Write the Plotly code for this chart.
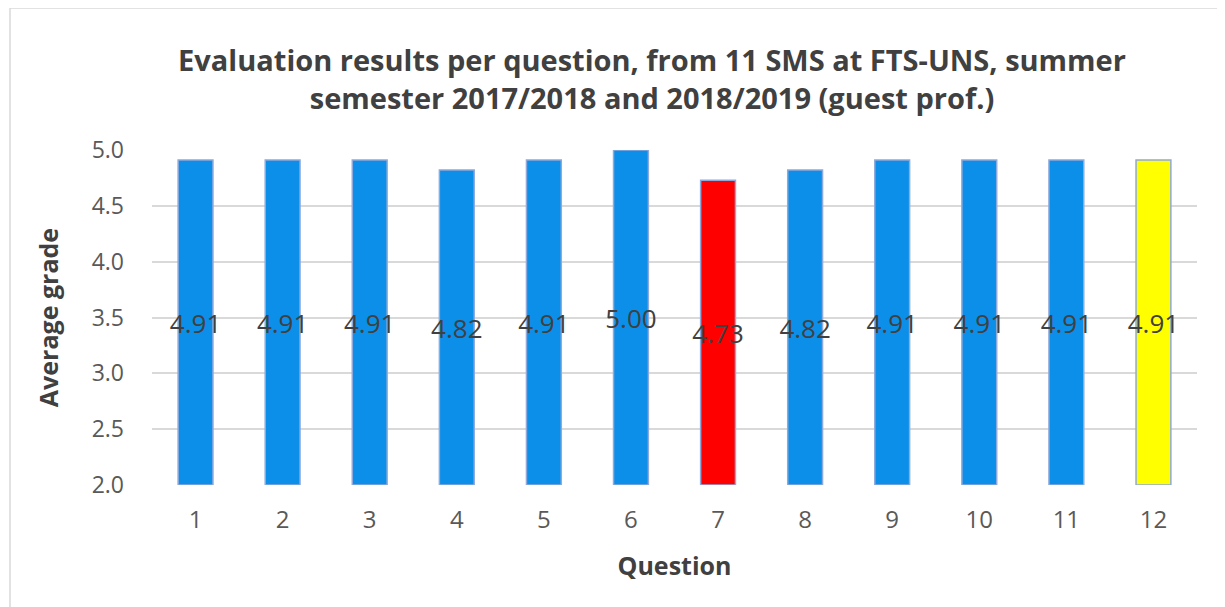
import plotly.graph_objects as go

# Average grade per question (guest professor, 11 SMS)
questions = [str(i) for i in range(1, 13)]
grades = [4.91, 4.91, 4.91, 4.82, 4.91, 5.00, 4.73, 4.82, 4.91, 4.91, 4.91, 4.91]
bar_colors = ['#0B8FE8'] * 6 + ['#FF0000'] + ['#0B8FE8'] * 4 + ['#FFFF00']
labels = ['%.2f' % g for g in grades]

Y_MIN, Y_MAX = 2.0, 5.0
FONT = 'Open Sans'

fig = go.Figure()
fig.add_trace(go.Bar(
    x=questions,
    y=[g - Y_MIN for g in grades],
    base=Y_MIN,
    marker=dict(color=bar_colors, line=dict(color='#8EA9DB', width=1.5)),
    text=labels,
    textposition='inside',
    insidetextanchor='middle',
    textangle=0,
    constraintext='none',
    textfont=dict(family=FONT, size=26, color='#404040'),
    width=0.4,
    hovertemplate='Question %{x}: %{text}<extra></extra>',
))

# page is drawn with an 8px body offset, so margins are shifted accordingly
fig.update_layout(
    width=1225, height=607,
    paper_bgcolor='white', plot_bgcolor='white',
    margin=dict(l=144, r=36, t=142, b=130),
    showlegend=False,
    title=dict(
        text='Evaluation results per question, from 11 SMS at FTS-UNS, summer<br>'
             'semester 2017/2018 and 2018/2019 (guest prof.)',
        x=644 / 1225, xanchor='center', xref='container',
        y=1 - 63 / 607, yanchor='top', yref='container',
        font=dict(family=FONT, size=29, color='#404040', weight='bold'),
    ),
    font=dict(family=FONT, color='#595959'),
)

fig.update_xaxes(
    type='category',
    showgrid=False, showline=False, ticks='',
    tickfont=dict(size=24, color='#595959'),
    ticklabelstandoff=18,
    title=dict(text='Question', font=dict(size=25, color='#404040', weight='bold'), standoff=23),
)
fig.update_yaxes(
    range=[Y_MIN, Y_MAX], dtick=0.5, tickformat='.1f',
    showgrid=True, gridcolor='#D9D9D9', gridwidth=2,
    zeroline=False, showline=False, ticks='',
    tickfont=dict(size=23, color='#595959'),
    ticklabelstandoff=27,
    title=dict(text='Average grade', font=dict(size=25, color='#404040', weight='bold'), standoff=25),
)

# chart-area border like the spreadsheet original
fig.add_shape(type='rect', xref='paper', yref='paper',
              x0=-142 / 1045, x1=1.2, y0=-0.5, y1=1 + 142 / 335,
              line=dict(color='#D9D9D9', width=1.5), fillcolor='rgba(0,0,0,0)', layer='below')

fig.write_html('out.html')
